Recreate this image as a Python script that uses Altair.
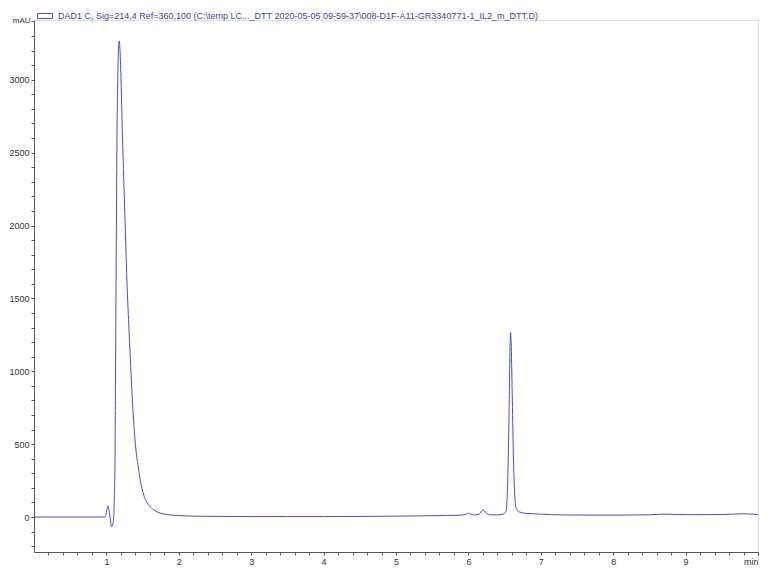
import altair as alt
import pandas as pd

# DAD1 C chromatogram

series_name = "DAD1 C, Sig=214,4 Ref=360,100 (C:\\temp LC..._DTT 2020-05-05 09-59-37\\008-D1F-A11-GR3340771-1_IL2_m_DTT.D)"

time_min = [0.0, 0.5, 0.98, 1.0, 1.02, 1.045, 1.073, 1.095, 1.108, 1.119, 1.125,
            1.132, 1.14, 1.146, 1.155, 1.165, 1.177, 1.19, 1.205, 1.222, 1.24,
            1.263, 1.285, 1.313, 1.344, 1.36, 1.38, 1.40, 1.42, 1.439, 1.46, 1.49,
            1.516, 1.56, 1.606, 1.67, 1.74, 1.85, 1.97, 2.2, 2.6, 3.0, 3.5, 4.0,
            4.5, 5.0, 5.5, 5.9, 5.97, 6.0, 6.03, 6.08, 6.15, 6.2, 6.25, 6.3, 6.4,
            6.48, 6.52, 6.54, 6.56, 6.575, 6.582, 6.59, 6.605, 6.62, 6.64, 6.66,
            6.7, 6.8, 7.0, 7.3, 8.0, 8.5, 8.7, 9.0, 9.5, 9.8, 10.0]

mau = [0, 0, 0, 30, 77, 20, -66, -30, 100, 400, 900,
       1500, 2150, 2606, 2950, 3180, 3266, 3180, 2950, 2606, 2320,
       1942, 1600, 1278, 945, 790, 630, 500, 410, 350, 275, 200,
       150, 100, 70, 44, 27, 16, 11, 6, 4, 3, 3, 3,
       4, 6, 9, 13, 20, 27, 20, 14, 20, 48, 25, 15, 15,
       20, 40, 200, 650, 1150, 1266, 1200, 850, 450, 150, 60,
       35, 25, 20, 14, 13, 15, 20, 16, 17, 22, 17]

x_ticks = [round(0.2 * i, 1) for i in range(1, 51)]
y_ticks = [-200, -100] + [100 * i for i in range(0, 35)]

line_color = "#4a4ad2"
text_color = "#3c3cb8"

df = pd.DataFrame({"time": time_min, "mAU": mau, "series": series_name})

chart = alt.Chart(df).mark_line(
    interpolate="monotone", strokeWidth=1
).encode(
    x=alt.X("time:Q",
            scale=alt.Scale(domain=[0, 10], nice=False, zero=False),
            axis=alt.Axis(values=x_ticks, title=None, grid=False,
                          labelExpr="datum.value == 10 ? 'min' : (datum.value % 1 == 0 ? '' + datum.value : '')",
                          labelOverlap=False, labelFlush=True,
                          tickSize=3, labelPadding=2, labelFontSize=9,
                          labelColor="#333333", domainColor="#555555",
                          tickColor="#555555")),
    y=alt.Y("mAU:Q",
            scale=alt.Scale(domain=[-240, 3410], nice=False, zero=False),
            axis=alt.Axis(values=y_ticks, title="mAU", grid=False,
                          labelExpr="datum.value % 500 == 0 && datum.value >= 0 && datum.value <= 3000 ? '' + datum.value : ''",
                          labelOverlap=False, labelFlush=False,
                          tickSize=3, labelPadding=2, labelFontSize=9,
                          labelColor="#333333", domainColor="#555555",
                          tickColor="#555555",
                          titleAngle=0, titleAlign="right", titleBaseline="middle",
                          titleX=-4, titleY=0, titleFontSize=8,
                          titleFontWeight="normal", titleColor="#333333")),
    color=alt.Color("series:N",
                    scale=alt.Scale(range=[line_color]),
                    legend=alt.Legend(orient="none", legendX=3, legendY=-12,
                                      title=None, padding=0,
                                      symbolType="M-1,-0.333H1V0.333H-1Z",
                                      symbolSize=225, symbolStrokeWidth=1,
                                      symbolFillColor="white",
                                      symbolStrokeColor=line_color,
                                      labelFontSize=9, labelLimit=700,
                                      labelOffset=5, labelColor=text_color))
).properties(
    width=724,
    height=532,
    padding=0
).configure_view(
    stroke=None
).configure(
    font="Liberation Sans"
)

chart.save("out.html", embed_options={"renderer": "svg", "actions": False})
